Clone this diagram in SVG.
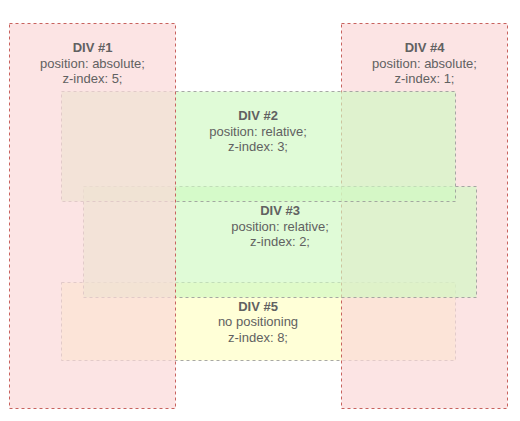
<svg xmlns="http://www.w3.org/2000/svg" width="520" height="421" viewBox="0 0 520 421">
<style>
.box{stroke-width:1;stroke-dasharray:3 3;}
.red{fill:#fbd8d8;fill-opacity:0.7;stroke:#c8625e;}
.green{fill:#cff9c1;fill-opacity:0.65;stroke:#999999;stroke-opacity:0.85;}
.yellow{fill:#ffffb0;fill-opacity:0.5;stroke:#999999;stroke-opacity:0.85;}
text{font-family:"Liberation Sans",Arial,sans-serif;font-size:13px;fill:#616161;text-anchor:middle;}
.t{font-weight:bold;}
</style>
<rect width="520" height="421" fill="#ffffff"/>
<g id="div5">
<rect class="box yellow" x="61.5" y="282.5" width="394" height="78"/>
<text class="t" x="258" y="311">DIV #5</text>
<text x="258" y="326">no positioning</text>
<text x="258" y="341.5">z-index: 8;</text>
</g>
<g id="div4">
<rect class="box red" x="341.5" y="23.5" width="166" height="385"/>
<text class="t" x="424.5" y="52">DIV #4</text>
<text x="424.5" y="67.5">position: absolute;</text>
<text x="424.5" y="83">z-index: 1;</text>
</g>
<g id="div3">
<rect class="box green" x="83.5" y="186.5" width="393" height="111"/>
<text class="t" x="280" y="215">DIV #3</text>
<text x="280" y="230.5">position: relative;</text>
<text x="280" y="246">z-index: 2;</text>
</g>
<g id="div2">
<rect class="box green" x="61.5" y="91.5" width="394" height="110"/>
<text class="t" x="258" y="119.5">DIV #2</text>
<text x="258" y="135.5">position: relative;</text>
<text x="258" y="151">z-index: 3;</text>
</g>
<g id="div1">
<rect class="box red" x="9.5" y="23.5" width="166" height="385"/>
<text class="t" x="92.5" y="52">DIV #1</text>
<text x="92.5" y="67.5">position: absolute;</text>
<text x="92.5" y="83">z-index: 5;</text>
</g>
<g id="connectors"/>
</svg>
